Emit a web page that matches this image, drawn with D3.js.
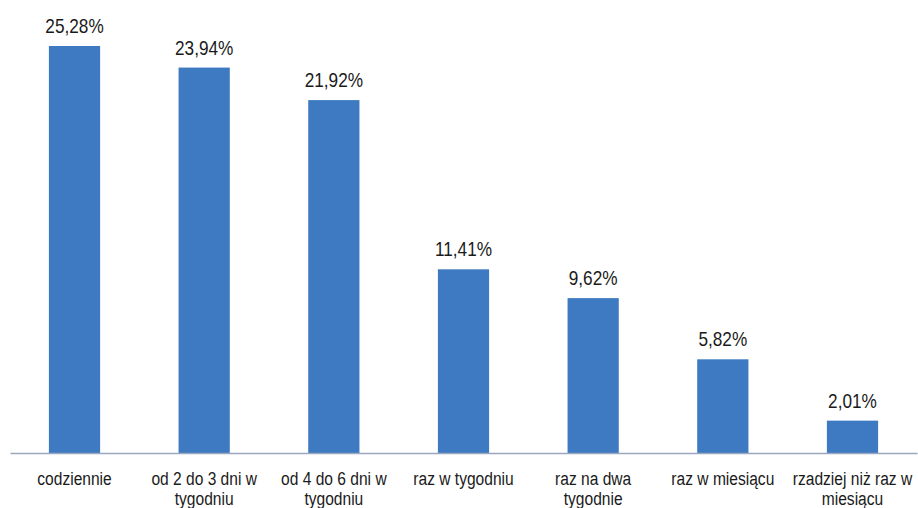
<!DOCTYPE html>
<html>
<head>
<meta charset="utf-8">
<script src="https://cdn.jsdelivr.net/npm/d3@7"></script>
<style>
  html, body { margin: 0; padding: 0; background: #ffffff; }
  svg { display: block; }
  text { font-family: "Liberation Sans", Arial, sans-serif; fill: #1a1a1a; }
</style>
</head>
<body>
<svg id="chart" width="918" height="508"></svg>
<script>
const categories = [
  "codziennie",
  "od 2 do 3 dni w\ntygodniu",
  "od 4 do 6 dni w\ntygodniu",
  "raz w tygodniu",
  "raz na dwa\ntygodnie",
  "raz w miesiącu",
  "rzadziej niż raz w\nmiesiącu"
];
const values = [25.28, 23.94, 21.92, 11.41, 9.62, 5.82, 2.01];
const valueLabels = ["25,28%", "23,94%", "21,92%", "11,41%", "9,62%", "5,82%", "2,01%"];

const svg = d3.select("#chart");
const baseline = 453;
const narrow = 0.82;

const x = d3.scaleBand()
  .domain(categories)
  .range([10, 917])
  .paddingInner(0.605)
  .paddingOuter(0.3);

const y = d3.scaleLinear()
  .domain([0, 25.28])
  .range([baseline, 46]);

const data = categories.map((c, i) => ({ c, v: values[i], l: valueLabels[i] }));
const cx = d => x(d.c) + x.bandwidth() / 2;

svg.selectAll("rect.bar")
  .data(data)
  .enter().append("rect")
  .attr("class", "bar")
  .attr("x", d => x(d.c))
  .attr("width", x.bandwidth())
  .attr("y", d => y(d.v))
  .attr("height", d => baseline - y(d.v))
  .attr("fill", "#3E7AC1");

// axis
const axis = d3.axisBottom(x).tickSize(0).tickPadding(0).tickFormat("");
const gAxis = svg.append("g").attr("transform", `translate(0,${baseline})`).call(axis);
gAxis.select(".domain").attr("stroke", "#9AA8BF").attr("stroke-width", 1.3);

// category labels
const lab = svg.append("g").selectAll("g.cat")
  .data(data)
  .enter().append("g")
  .attr("class", "cat")
  .attr("transform", d => `translate(${cx(d)},485) scale(${narrow},1)`)
  .append("text")
  .attr("text-anchor", "middle")
  .attr("font-size", 19);
lab.each(function(d) {
  const t = d3.select(this);
  d.c.split("\n").forEach((ln, i) => {
    t.append("tspan").attr("x", 0).attr("dy", i === 0 ? 0 : 20).text(ln);
  });
});

// value labels
svg.selectAll("g.val")
  .data(data)
  .enter().append("g")
  .attr("class", "val")
  .attr("transform", d => `translate(${cx(d)},${y(d.v) - 13}) scale(${narrow},1)`)
  .append("text")
  .attr("text-anchor", "middle")
  .attr("font-size", 21)
  .text(d => d.l);
</script>
</body>
</html>
